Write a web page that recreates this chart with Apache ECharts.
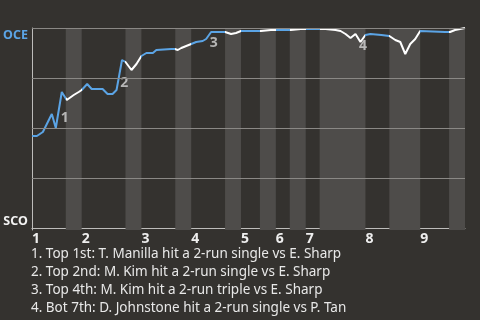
<!DOCTYPE html>
<html>
<head>
<meta charset="utf-8">
<script src="https://cdn.jsdelivr.net/npm/echarts@6/dist/echarts.min.js"></script>
<style>
html,body{margin:0;padding:0;background:#34322f;}
#chart{width:480px;height:320px;}
</style>
</head>
<body>
<div id="chart"></div>
<script>
// ---- data ----
const teamTop = 'OCE';
const teamBottom = 'SCO';
const inningLabels = ['1','2','3','4','5','6','7','8','9'];
const inningStart = [0, 10, 22, 32, 42, 49, 55, 67, 78];
const bottomStart = [6.8, 18.8, 28.8, 38.8, 45.8, 51.8, 57.8, 71.8, 83.8];
const gameEnd = 87;
const playIndex = [0,1,1.2,2.2,3,4,4.8,5.2,6,7,8.4,9.4,10,11.1,12,14.2,15.2,16.2,17,18.1,18.8,20,21,22,23,24.3,25,28,28.7,29.3,30,31,32,33,34.3,35,36,38.8,40,41,42,46,48,52,54,55,57.3,59,61,62,63,64,65,66,67,68,70.2,71.8,73,74,75,76,77,78,83,84,85,87];
const oceWinProb = [0.46,0.46,0.45,0.48,0.52,0.57,0.50,0.50,0.68,0.64,0.665,0.68,0.69,0.72,0.695,0.695,0.67,0.67,0.69,0.84,0.83,0.79,0.82,0.86,0.875,0.875,0.89,0.895,0.895,0.89,0.90,0.91,0.92,0.93,0.935,0.945,0.98,0.98,0.97,0.975,0.985,0.985,0.99,0.99,0.995,0.995,0.995,0.995,0.99,0.985,0.97,0.95,0.97,0.93,0.965,0.97,0.965,0.96,0.94,0.93,0.87,0.92,0.945,0.985,0.98,0.98,0.99,1.0];
const scoringPlayIndex = [8, 19, 36, 53];
const scoringPlayText = [
  'Top 1st: T. Manilla hit a 2-run single vs E. Sharp',
  'Top 2nd: M. Kim hit a 2-run single vs E. Sharp',
  'Top 4th: M. Kim hit a 2-run triple vs E. Sharp',
  'Bot 7th: D. Johnstone hit a 2-run single vs P. Tan'
];

// ---- styles ----
const BLUE = '#5ba4e5';
const WHITE = '#ffffff';
const BAND = '#4e4c4a';
const GRID = '#8a8885';
const AXIS = '#bdbcba';
const FONT = 'Noto Sans';

const lineData = playIndex.map((x, i) => [x, oceWinProb[i]]);
const bandData = bottomStart.map((s, i) => [
  { xAxis: s },
  { xAxis: i + 1 < inningStart.length ? inningStart[i + 1] : gameEnd }
]);
const pieces = [];
inningStart.forEach((s, i) => {
  pieces.push({ gte: s, lt: bottomStart[i], color: BLUE });
  pieces.push({ gte: bottomStart[i], lt: i + 1 < inningStart.length ? inningStart[i + 1] : gameEnd + 1, color: WHITE });
});
const markerData = scoringPlayIndex.map((idx, k) => [
  (playIndex[idx - 1] + playIndex[idx]) / 2,
  (oceWinProb[idx - 1] + oceWinProb[idx]) / 2,
  k + 1
]);

const chart = echarts.init(document.getElementById('chart'), null, { renderer: 'canvas' });
chart.setOption({
  backgroundColor: '#34322f',
  animation: false,
  grid: { left: 30, right: 15, top: 28, bottom: 90 },
  xAxis: {
    type: 'value', min: 0, max: gameEnd,
    splitLine: { show: false },
    axisTick: { show: false },
    axisLine: { lineStyle: { color: AXIS, width: 1 } },
    axisLabel: {
      customValues: inningStart,
      formatter: v => inningLabels[inningStart.indexOf(v)],
      align: 'left', margin: 2,
      color: '#eeeeee', fontFamily: FONT, fontWeight: 'bold', fontSize: 14
    }
  },
  yAxis: {
    type: 'value', min: -0.01, max: 1,
    splitLine: { show: false },
    axisTick: { show: false },
    axisLine: { show: true, lineStyle: { color: AXIS, width: 1 } },
    axisLabel: {
      customValues: [0, 1],
      margin: 4,
      formatter: v => v === 1 ? '{t|' + teamTop + '}' : '{b|' + teamBottom + '}',
      rich: {
        t: { color: BLUE, fontFamily: FONT, fontWeight: 'bold', fontSize: 12.5, padding: [14, 0, 0, 0] },
        b: { color: '#f2f2f2', fontFamily: FONT, fontWeight: 'bold', fontSize: 12.5, padding: [0, 0, 13, 0] }
      }
    }
  },
  visualMap: {
    type: 'piecewise', show: false, dimension: 0, seriesIndex: 1,
    pieces: pieces
  },
  series: [
    {
      type: 'line', data: [], z: 1, silent: true,
      markArea: { silent: true, itemStyle: { color: BAND }, data: bandData },
      markLine: {
        silent: true, symbol: 'none', label: { show: false },
        lineStyle: { color: GRID, type: 'solid', width: 1 },
        data: [{ yAxis: 0.25 }, { yAxis: 0.5 }, { yAxis: 0.75 }, { yAxis: 1 }]
      }
    },
    {
      type: 'line', data: lineData, z: 3, symbol: 'none',
      lineStyle: { width: 2 }
    },
    {
      type: 'scatter', data: markerData, z: 4, symbolSize: 0,
      label: {
        show: true, formatter: p => p.value[2], position: 'inside', offset: [5, 8],
        color: '#d6d6d6', fontFamily: FONT, fontWeight: 'bold', fontSize: 14
      }
    }
  ],
  graphic: [{
    type: 'text', left: 31, top: 245,
    style: {
      text: scoringPlayText.map((t, i) => (i + 1) + '. ' + t).join('\n'),
      fill: '#e8e8e8', font: '13.5px "Noto Sans"', lineHeight: 18
    }
  }]
});
</script>
</body>
</html>
